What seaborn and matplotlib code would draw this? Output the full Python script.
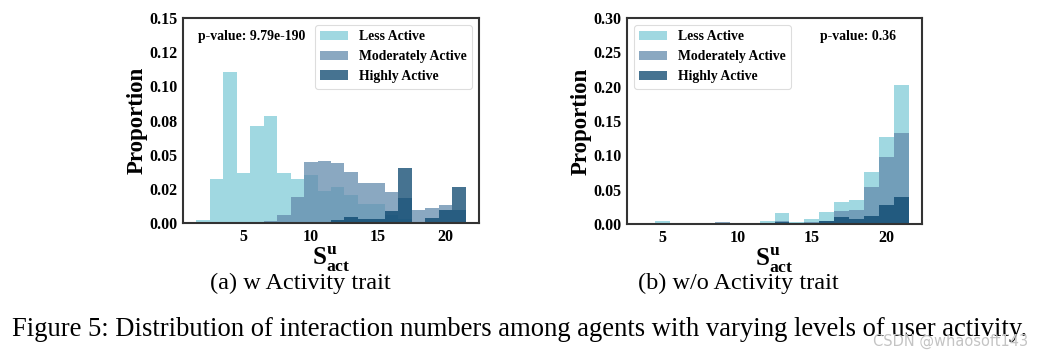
import numpy as np
import pandas as pd
import matplotlib
matplotlib.use("Agg")
import matplotlib.pyplot as plt
import seaborn as sns

# ---------------- data ----------------
groups = ["Less Active", "Moderately Active", "Highly Active"]
colors = ["#80ccd7", "#638bac", "#08446c"]

# (a) w Activity trait : S_act^u = 2..21
a_bins = list(range(2, 22))
a_less = [0.0022, 0.0325, 0.1105, 0.0366, 0.0707, 0.0785, 0.0366, 0.0324, 0.0354, 0.0234,
          0.0264, 0.0207, 0.0141, 0.0141, 0.0060, 0.0030, 0.0010, 0.0005, 0.0, 0.0]
a_mod = [0.0, 0.0, 0.0, 0.0005, 0.0008, 0.0015, 0.0061, 0.0190, 0.0444, 0.0456,
         0.0436, 0.0370, 0.0293, 0.0293, 0.0224, 0.0183, 0.0093, 0.0110, 0.0134, 0.0093]
a_high = [0.0, 0.0, 0.0, 0.0, 0.0, 0.0, 0.0, 0.0, 0.0, 0.0,
          0.0024, 0.0041, 0.0030, 0.0030, 0.0085, 0.0403, 0.0010, 0.0037, 0.0093, 0.0264]
a_yticks = [0.0, 0.025, 0.05, 0.075, 0.10, 0.125, 0.15]
a_yticklabels = ["0.00", "0.02", "0.05", "0.08", "0.10", "0.12", "0.15"]
a_pvalue = "p-value: 9.79e-190"
a_caption = "(a) w Activity trait"

# (b) w/o Activity trait : S_act^u = 4..21
b_bins = list(range(4, 22))
b_less = [0.0020, 0.0050, 0.0005, 0.0005, 0.0005, 0.0010, 0.0010, 0.0015, 0.0050, 0.0155,
          0.0034, 0.0073, 0.0180, 0.0316, 0.0350, 0.0763, 0.1270, 0.2020]
b_mod = [0.0, 0.0010, 0.0, 0.0, 0.0, 0.0030, 0.0005, 0.0010, 0.0020, 0.0040,
         0.0010, 0.0030, 0.0050, 0.0194, 0.0204, 0.0535, 0.0980, 0.1320]
b_high = [0.0, 0.0010, 0.0, 0.0, 0.0, 0.0020, 0.0, 0.0, 0.0010, 0.0030,
          0.0010, 0.0020, 0.0049, 0.0107, 0.0068, 0.0122, 0.0277, 0.0390]
b_yticks = [0.0, 0.05, 0.10, 0.15, 0.20, 0.25, 0.30]
b_yticklabels = ["0.00", "0.05", "0.10", "0.15", "0.20", "0.25", "0.30"]
b_pvalue = "p-value: 0.36"
b_caption = "(b) w/o Activity trait"

xticks = [5, 10, 15, 20]
figure_caption = "Figure 5: Distribution of interaction numbers among agents with varying levels of user activity."
watermark = "CSDN @whaosoft143"

# ---------------- style ----------------
sns.set_style("white")
plt.rcParams["font.family"] = ["Liberation Serif", "DejaVu Serif"]
plt.rcParams["mathtext.fontset"] = "custom"
plt.rcParams["mathtext.rm"] = "Liberation Serif"
plt.rcParams["mathtext.bf"] = "Liberation Serif:bold"
for key in ["text.color", "axes.labelcolor", "xtick.color", "ytick.color"]:
    plt.rcParams[key] = "black"

fig = plt.figure(figsize=(10.56, 3.55), dpi=100)
ax_a = fig.add_axes([0.1733, 0.3718, 0.2803, 0.5775])
ax_b = fig.add_axes([0.5938, 0.3690, 0.2794, 0.5800])


def draw(ax, bins, series, yticks, yticklabels, pvalue, pv_xy, pv_ha, legend_loc):
    n = len(bins)
    df = pd.DataFrame({
        "S": bins * 3,
        "w": series[0] + series[1] + series[2],
        "group": sum([[g] * n for g in groups], []),
    })
    for g, c in zip(groups, colors):
        sns.histplot(data=df[df["group"] == g], x="S", weights="w", discrete=True,
                     color=c, alpha=0.75, linewidth=0, ax=ax, label=g)
    ax.set_ylim(yticks[0], yticks[-1])
    ax.set_yticks(yticks)
    ax.set_yticklabels(yticklabels)
    ax.set_xticks(xticks)
    ax.set_xticklabels([str(t) for t in xticks])
    for lab in ax.get_xticklabels() + ax.get_yticklabels():
        lab.set_fontweight("bold")
        lab.set_fontsize(11.5)
    ax.tick_params(axis="both", length=2, width=1, pad=2, color="#333333")
    for sp in ax.spines.values():
        sp.set_color("#333333")
        sp.set_linewidth(1.5)
    ax.set_ylabel("Proportion", fontsize=16.5, fontweight="bold", labelpad=1)
    ax.set_xlabel(r"$\mathbf{S}^{\mathbf{u}}_{\mathbf{act}}$", fontsize=18, labelpad=0)
    ax.text(pv_xy[0], pv_xy[1], pvalue, transform=ax.transAxes, ha=pv_ha, va="center",
            fontsize=9.9, fontweight="bold")
    leg = ax.legend(loc=legend_loc, prop=dict(weight="bold", size=9.9), frameon=True,
                    fancybox=True, edgecolor="#dddddd", framealpha=1.0,
                    handlelength=2.0, borderaxespad=0.5)
    leg.get_frame().set_linewidth(0.8)


draw(ax_a, a_bins, [a_less, a_mod, a_high], a_yticks, a_yticklabels, a_pvalue,
     (0.05, 0.91), "left", "upper right")
draw(ax_b, b_bins, [b_less, b_mod, b_high], b_yticks, b_yticklabels, b_pvalue,
     (0.655, 0.91), "left", "upper left")

fig.text(300 / 1056, 1 - 283 / 355, a_caption, ha="center", va="center", fontsize=17.5)
fig.text(738 / 1056, 1 - 283 / 355, b_caption, ha="center", va="center", fontsize=17.5)
fig.text(12 / 1056, 1 - 330 / 355, figure_caption, ha="left", va="center", fontsize=19.2)
fig.text(1028 / 1056, 1 - 341 / 355, watermark, ha="right", va="center", fontsize=10.5,
         color="#c4c4c4", family=["DejaVu Sans"])

fig.savefig("out.png", dpi=100, facecolor="white")
